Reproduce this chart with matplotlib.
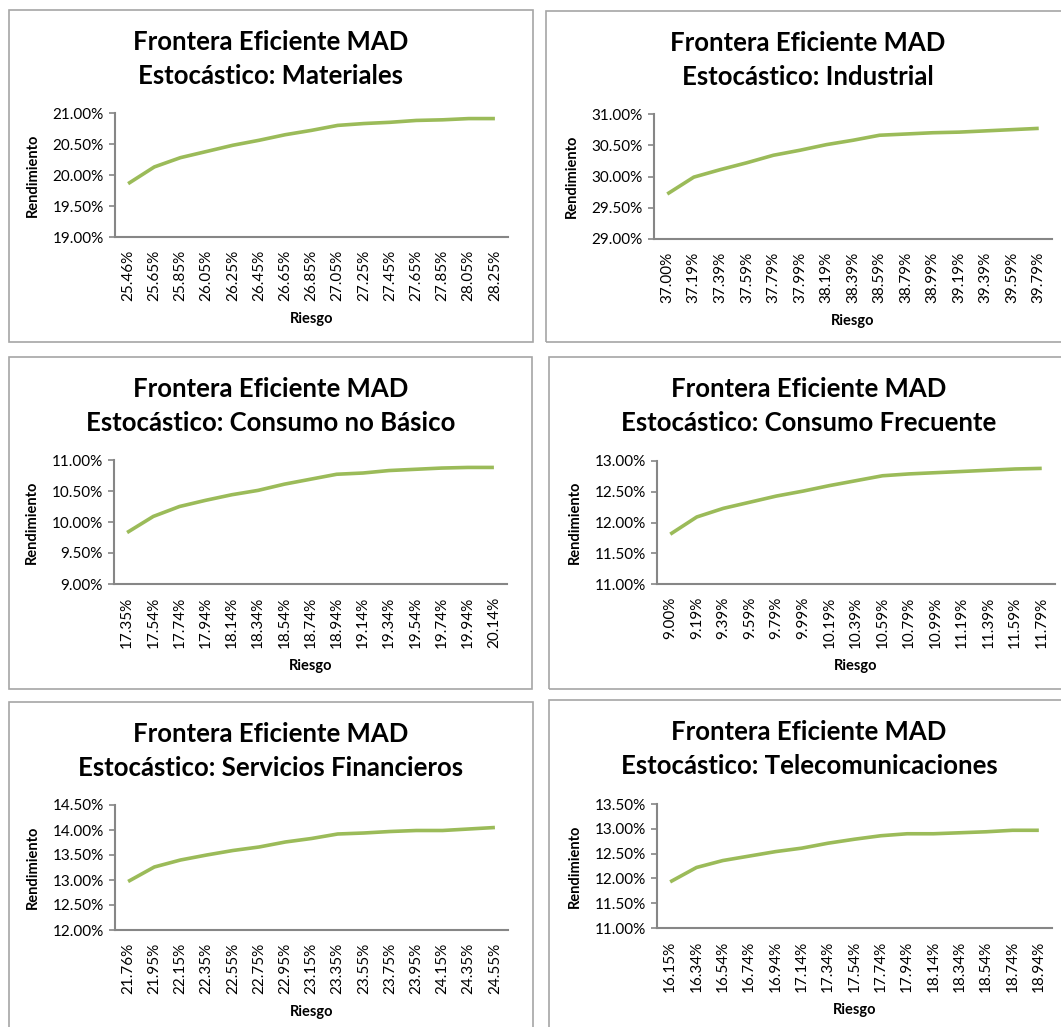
import matplotlib
matplotlib.use("Agg")
import matplotlib.pyplot as plt
from matplotlib.patches import Rectangle
from matplotlib.ticker import FuncFormatter

plt.rcParams['font.family'] = ['Lato', 'DejaVu Sans']

# sectores
sectores = ["Materiales", "Industrial", "Consumo no Básico",
            "Consumo Frecuente", "Servicios Financieros", "Telecomunicaciones"]

# riesgo (etiquetas del eje x)
riesgo_materiales = ["25.46%", "25.65%", "25.85%", "26.05%", "26.25%", "26.45%", "26.65%", "26.85%",
                     "27.05%", "27.25%", "27.45%", "27.65%", "27.85%", "28.05%", "28.25%"]
riesgo_industrial = ["37.00%", "37.19%", "37.39%", "37.59%", "37.79%", "37.99%", "38.19%", "38.39%",
                     "38.59%", "38.79%", "38.99%", "39.19%", "39.39%", "39.59%", "39.79%"]
riesgo_consumo_nb = ["17.35%", "17.54%", "17.74%", "17.94%", "18.14%", "18.34%", "18.54%", "18.74%",
                     "18.94%", "19.14%", "19.34%", "19.54%", "19.74%", "19.94%", "20.14%"]
riesgo_consumo_fr = ["9.00%", "9.19%", "9.39%", "9.59%", "9.79%", "9.99%", "10.19%", "10.39%",
                     "10.59%", "10.79%", "10.99%", "11.19%", "11.39%", "11.59%", "11.79%"]
riesgo_financieros = ["21.76%", "21.95%", "22.15%", "22.35%", "22.55%", "22.75%", "22.95%", "23.15%",
                      "23.35%", "23.55%", "23.75%", "23.95%", "24.15%", "24.35%", "24.55%"]
riesgo_telecom = ["16.15%", "16.34%", "16.54%", "16.74%", "16.94%", "17.14%", "17.34%", "17.54%",
                  "17.74%", "17.94%", "18.14%", "18.34%", "18.54%", "18.74%", "18.94%"]

# rendimiento (%)
rend_materiales = [19.86, 20.13, 20.28, 20.38, 20.48, 20.56, 20.65, 20.72,
                   20.80, 20.83, 20.85, 20.88, 20.89, 20.91, 20.91]
rend_industrial = [29.72, 29.99, 30.11, 30.22, 30.34, 30.42, 30.51, 30.58,
                   30.66, 30.68, 30.70, 30.71, 30.73, 30.75, 30.77]
rend_consumo_nb = [9.83, 10.09, 10.25, 10.35, 10.44, 10.51, 10.61, 10.69,
                   10.77, 10.79, 10.83, 10.85, 10.87, 10.88, 10.88]
rend_consumo_fr = [11.81, 12.09, 12.23, 12.33, 12.43, 12.51, 12.60, 12.68,
                   12.76, 12.79, 12.81, 12.83, 12.85, 12.87, 12.88]
rend_financieros = [12.97, 13.26, 13.40, 13.50, 13.59, 13.66, 13.76, 13.83,
                    13.92, 13.94, 13.97, 13.99, 13.99, 14.02, 14.05]
rend_telecom = [11.93, 12.22, 12.36, 12.45, 12.54, 12.61, 12.71, 12.79,
                12.86, 12.90, 12.90, 12.92, 12.94, 12.97, 12.97]

# limites del eje y (%)
y_min = [19.0, 29.0, 9.0, 11.0, 12.0, 11.0]
y_max = [21.0, 31.0, 11.0, 13.0, 14.5, 13.5]

riesgos = [riesgo_materiales, riesgo_industrial, riesgo_consumo_nb,
           riesgo_consumo_fr, riesgo_financieros, riesgo_telecom]
rendimientos = [rend_materiales, rend_industrial, rend_consumo_nb,
                rend_consumo_fr, rend_financieros, rend_telecom]

W, H = 1061, 1027
fig = plt.figure(figsize=(W / 100, H / 100), dpi=100)

# marcos y areas de grafico en pixeles: (izq, arriba, der, abajo)
marcos = [(9, 10, 533, 342), (546, 11, 1075, 342),
          (9, 357, 532, 689), (549, 357, 1075, 689),
          (9, 702, 533, 1040), (549, 700, 1075, 1040)]
areas = [(115, 113, 508, 237), (654, 114, 1052, 239),
         (114, 460, 507, 584), (657, 461, 1055, 584),
         (115, 805, 508, 930), (657, 804, 1052, 928)]


def a_fig(l, t, r, b):
    return [l / W, 1 - b / H, (r - l) / W, (b - t) / H]


for i in range(6):
    l, t, r, b = marcos[i]
    fig.patches.append(Rectangle((l / W, 1 - b / H), (r - l) / W, (b - t) / H,
                                 transform=fig.transFigure, fill=False,
                                 edgecolor='#a6a6a6', linewidth=1.2))
    cx = (l + r) / 2
    if i % 2 == 1:
        cx = (l + 1069) / 2
    fig.text(cx / W, 1 - (t + 32) / H, "Frontera Eficiente MAD", ha='center', va='center',
             fontsize=18.5, fontweight='bold')
    fig.text(cx / W, 1 - (t + 66) / H, "Estocástico: " + sectores[i], ha='center', va='center',
             fontsize=18.5, fontweight='bold')

    al, at, ar, ab = areas[i]
    ax = fig.add_axes(a_fig(al, at, ar, ab))
    x = list(range(len(rendimientos[i])))
    ax.plot(x, rendimientos[i], color='#9BBB59', linewidth=2.6, solid_capstyle='butt')
    ax.set_xlim(-0.5, len(x) - 0.5)
    ax.set_ylim(y_min[i], y_max[i])
    ticks = []
    v = y_min[i]
    while v <= y_max[i] + 1e-9:
        ticks.append(v)
        v += 0.5
    ax.set_yticks(ticks)
    ax.yaxis.set_major_formatter(FuncFormatter(lambda val, pos: "%.2f%%" % val))
    ax.set_xticks(x)
    ax.set_xticklabels(riesgos[i], rotation=90)
    for s in ['top', 'right']:
        ax.spines[s].set_visible(False)
    for s in ['left', 'bottom']:
        ax.spines[s].set_color('#868686')
        ax.spines[s].set_linewidth(1.5)
    ax.tick_params(axis='y', length=4, width=1.2, color='#868686', pad=4, labelsize=11)
    ax.tick_params(axis='x', length=0, pad=9, labelsize=11)
    ax.set_ylabel("Rendimiento", fontsize=10.5, fontweight='bold')
    ax.yaxis.set_label_coords(-75 / (ar - al), 0.5)
    ax.set_xlabel("Riesgo", fontsize=10.5, fontweight='bold')
    ax.xaxis.set_label_coords(0.5, -75 / (ab - at))

fig.savefig("out.png", dpi=100)
